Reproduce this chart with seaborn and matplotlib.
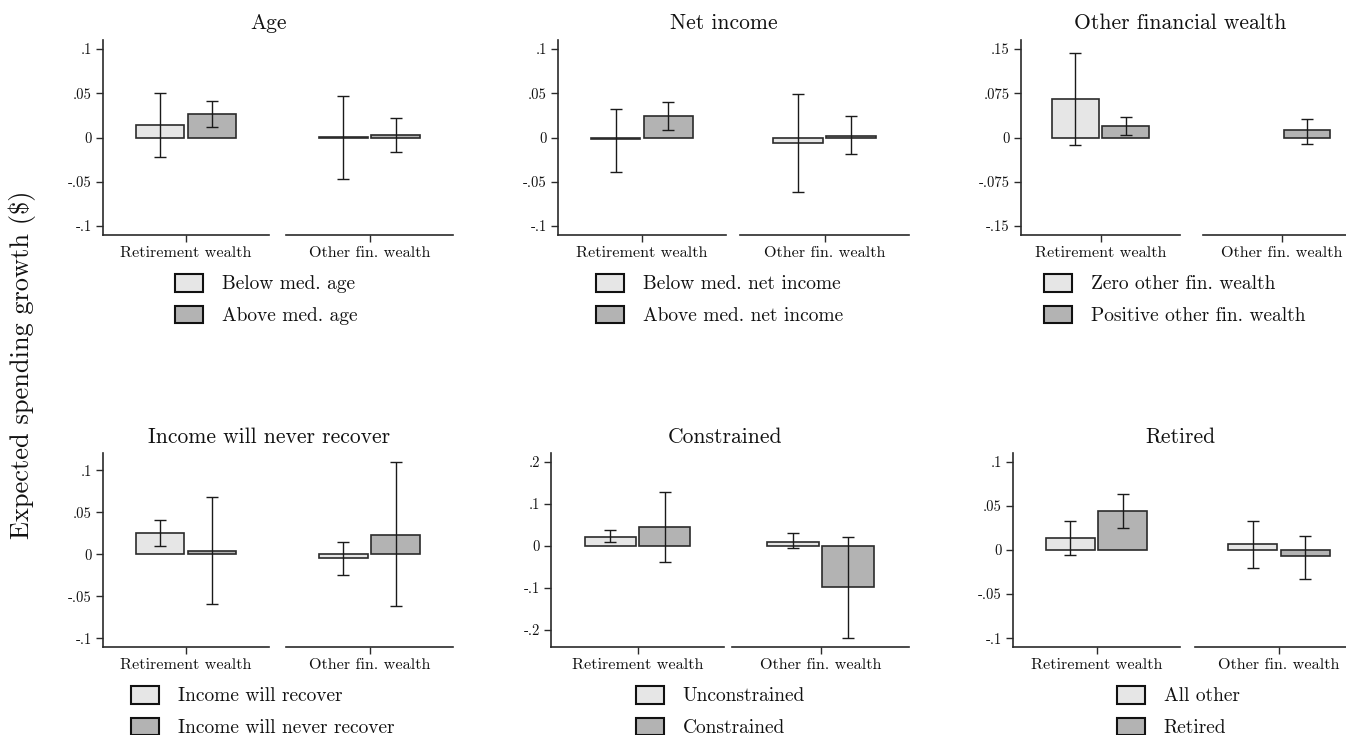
import numpy as np
import pandas as pd
import matplotlib
matplotlib.use("Agg")
import matplotlib.pyplot as plt
from matplotlib.patches import Patch
import seaborn as sns

# ---------------- data ----------------
titles = ["Age", "Net income", "Other financial wealth",
          "Income will never recover", "Constrained", "Retired"]
groups = ["Retirement wealth", "Other fin. wealth"]
legend_labels = [
    ["Below med. age", "Above med. age"],
    ["Below med. net income", "Above med. net income"],
    ["Zero other fin. wealth", "Positive other fin. wealth"],
    ["Income will recover", "Income will never recover"],
    ["Unconstrained", "Constrained"],
    ["All other", "Retired"],
]
# values: [panel][group] -> (light, dark)
est = [
    [[0.0142, 0.0267], [0.0003, 0.0027]],
    [[-0.0018, 0.0239], [-0.0057, 0.0019]],
    [[0.0653, 0.0189], [np.nan, 0.0120]],
    [[0.0257, 0.0044], [-0.0044, 0.0229]],
    [[0.0208, 0.0447], [0.0100, -0.0974]],
    [[0.0138, 0.0440], [0.0067, -0.0072]],
]
ci_lo = [
    [[-0.0220, 0.0119], [-0.0472, -0.0167]],
    [[-0.0394, 0.0080], [-0.0618, -0.0190]],
    [[-0.0132, 0.0034], [np.nan, -0.0110]],
    [[0.0103, -0.0590], [-0.0245, -0.0617]],
    [[0.0096, -0.0390], [-0.0064, -0.2200]],
    [[-0.0056, 0.0246], [-0.0200, -0.0325]],
]
ci_hi = [
    [[0.0507, 0.0408], [0.0469, 0.0222]],
    [[0.0318, 0.0405], [0.0496, 0.0240]],
    [[0.1436, 0.0344], [np.nan, 0.0315]],
    [[0.0403, 0.0680], [0.0150, 0.1100]],
    [[0.0367, 0.1285], [0.0304, 0.0215]],
    [[0.0328, 0.0634], [0.0328, 0.0157]],
]
yticks = [
    [-0.1, -0.05, 0, 0.05, 0.1],
    [-0.1, -0.05, 0, 0.05, 0.1],
    [-0.15, -0.075, 0, 0.075, 0.15],
    [-0.1, -0.05, 0, 0.05, 0.1],
    [-0.2, -0.1, 0, 0.1, 0.2],
    [-0.1, -0.05, 0, 0.05, 0.1],
]
ytick_labels = [
    ["-.1", "-.05", "0", ".05", ".1"],
    ["-.1", "-.05", "0", ".05", ".1"],
    ["-.15", "-.075", "0", ".075", ".15"],
    ["-.1", "-.05", "0", ".05", ".1"],
    ["-.2", "-.1", "0", ".1", ".2"],
    ["-.1", "-.05", "0", ".05", ".1"],
]

# ---------------- style ----------------
sns.set_theme(style="white")
plt.rcParams["font.family"] = ["cmr10", "DejaVu Serif"]
plt.rcParams["axes.unicode_minus"] = False
plt.rcParams["axes.formatter.use_mathtext"] = True
plt.rcParams["mathtext.fontset"] = "cm"
plt.rcParams["text.color"] = "#111111"

light = "#e6e6e6"
dark = "#b3b3b3"
edge = "#2b2b2b"
axcol = "#2a2a2a"

W, H = 1346, 735
fig = plt.figure(figsize=(W / 100, H / 100), dpi=100)

# pixel layout of sub-axes: (left sub x0,x1), (right sub x0,x1)
xpos = [
    [(103, 269), (286, 453)],
    [(558, 726), (740, 909)],
    [(1021, 1180), (1203, 1361)],
    [(103, 269), (286, 453)],
    [(551, 724), (732, 909)],
    [(1013, 1180), (1195, 1363)],
]
rows_y = [(40, 235), (453, 647)]
title_x = [269, 724, 1180, 269, 725, 1180]
title_y = [23, 437]
legend_x = [175, 596, 1044, 131, 636, 1117]
legend_y = [299.5, 711.5]


def fx(px):
    return px / W


def fy(py):
    return 1 - py / H


for p in range(6):
    r = p // 3
    top, bot = rows_y[r]
    ticks = yticks[p]
    allv = [v for g in range(2) for v in ci_lo[p][g] + ci_hi[p][g] if not np.isnan(v)]
    lo = min(min(ticks), min(allv))
    hi = max(max(ticks), max(allv))
    rng = hi - lo
    ylim = (lo - 0.05 * rng, hi + 0.05 * rng)
    for g in range(2):
        x0, x1 = xpos[p][g]
        ax = fig.add_axes([fx(x0), fy(bot), fx(x1) - fx(x0), (bot - top) / H])
        df = pd.DataFrame({
            "cat": [groups[g], groups[g]],
            "grp": legend_labels[p],
            "val": est[p][g],
        })
        sns.barplot(data=df, x="cat", y="val", hue="grp",
                    hue_order=legend_labels[p], palette=[light, dark],
                    width=0.63, gap=0.07, edgecolor=edge, linewidth=1.2,
                    errorbar=None, legend=False, ax=ax)
        bar_conts = list(ax.containers)
        for k, cont in enumerate(bar_conts[:2]):
            v = est[p][g][k]
            if np.isnan(v):
                continue
            bar = cont[0]
            xc = bar.get_x() + bar.get_width() / 2
            ax.errorbar([xc], [v],
                        yerr=[[v - ci_lo[p][g][k]], [ci_hi[p][g][k] - v]],
                        fmt="none", ecolor="#1a1a1a", elinewidth=1.0,
                        capsize=4.5, capthick=1.0)
        ax.set_xlim(-0.5, 0.5)
        ax.set_ylim(*ylim)
        ax.set_xlabel("")
        ax.set_ylabel("")
        ax.set_facecolor("white")
        for s in ["top", "right"]:
            ax.spines[s].set_visible(False)
        ax.spines["bottom"].set_color(axcol)
        ax.spines["bottom"].set_linewidth(1.2)
        ax.tick_params(axis="x", which="both", bottom=True, length=5,
                       width=1.0, color=axcol, labelsize=11.7, pad=3,
                       labelcolor="#111111")
        if g == 0:
            ax.spines["left"].set_color(axcol)
            ax.spines["left"].set_linewidth(1.2)
            ax.set_yticks(ticks)
            ax.set_yticklabels(ytick_labels[p])
            ax.tick_params(axis="y", which="both", left=True, length=5,
                           width=1.0, color=axcol, labelsize=10.5, pad=3,
                           labelcolor="#111111")
        else:
            ax.spines["left"].set_visible(False)
            ax.set_yticks([])
    fig.text(fx(title_x[p]), fy(title_y[r]), titles[p], ha="center",
             va="center", fontsize=15.5)
    handles = [Patch(facecolor=light, edgecolor="#111111", linewidth=1.5),
               Patch(facecolor=dark, edgecolor="#111111", linewidth=1.5)]
    fig.legend(handles=handles, labels=legend_labels[p], loc="center left",
               bbox_to_anchor=(fx(legend_x[p]), fy(legend_y[r])),
               frameon=False, fontsize=14, handlelength=1.45,
               handleheight=1.0, handletextpad=0.95, labelspacing=0.62,
               borderpad=0, borderaxespad=0)

fig.text(fx(22), fy(365), "Expected spending growth ($)", rotation=90,
         ha="center", va="center", fontsize=19)

fig.savefig("out.png", dpi=100, facecolor="white")
